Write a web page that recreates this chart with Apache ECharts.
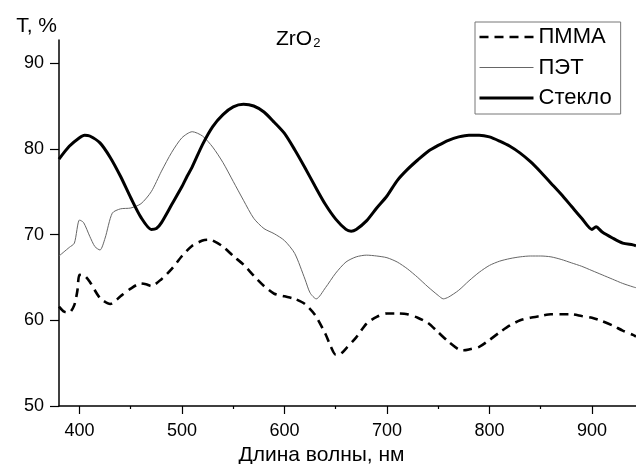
<!DOCTYPE html>
<html>
<head>
<meta charset="utf-8">
<script src="https://cdn.jsdelivr.net/npm/echarts@6/dist/echarts.min.js"></script>
<style>
html,body{margin:0;padding:0;background:#fff;}
#chart{width:636px;height:464px;}
</style>
</head>
<body>
<div id="chart"></div>
<script>
// Series names
const seriesNames = ['ПММА', 'ПЭТ', 'Стекло'];

// ПММА (dashed)
const pmmaX = [380,385,390,395,398,400,405,410,420,430,440,450,460,465,470,480,490,500,510,520,525,530,540,550,560,570,580,590,600,610,620,630,640,645,650,655,660,670,680,690,700,710,720,730,740,750,760,770,775,780,790,800,810,820,830,840,850,860,870,880,890,900,910,920,930,940,943];
const pmmaY = [61.6,61.0,60.9,61.8,63.5,65.3,65.2,64.5,62.6,61.9,62.8,63.7,64.3,64.2,64.0,64.8,66.0,67.5,68.7,69.3,69.4,69.3,68.6,67.5,66.5,65.2,64.0,63.1,62.8,62.5,61.9,60.6,58.4,57.0,56.0,56.1,56.7,58.0,59.6,60.4,60.8,60.8,60.7,60.3,59.7,58.6,57.5,56.6,56.5,56.6,56.9,57.7,58.6,59.4,60.0,60.3,60.5,60.7,60.7,60.7,60.5,60.3,59.9,59.4,58.8,58.3,58.1];

// ПЭТ (thin)
const petX = [380,390,395,400,404,410,415,420,425,432,440,450,460,470,480,490,500,510,520,530,540,550,560,570,580,590,600,610,620,625,631,640,650,660,670,680,690,700,710,720,730,740,750,755,760,770,780,790,800,810,820,830,840,850,860,870,880,890,900,910,920,930,940,943];
const petY = [67.5,68.5,69.0,71.7,71.4,69.8,68.6,68.2,69.6,72.5,73.0,73.1,73.6,75.0,77.4,79.6,81.3,82.0,81.5,80.2,78.4,76.2,74.0,71.9,70.7,70.1,69.3,67.8,64.8,63.2,62.5,63.8,65.5,66.8,67.4,67.6,67.5,67.3,66.8,66.0,65.0,63.9,62.9,62.5,62.7,63.5,64.6,65.6,66.4,66.9,67.2,67.4,67.5,67.5,67.4,67.1,66.7,66.3,65.8,65.3,64.8,64.3,63.9,63.8];

// Стекло (thick)
const glassX = [380,390,400,405,410,420,430,440,450,460,470,475,480,490,500,505,510,520,530,540,550,560,570,580,590,600,610,620,630,640,650,660,665,670,680,690,700,710,720,730,740,750,760,770,780,790,800,810,820,830,840,850,860,870,880,890,900,904,910,920,930,940,943];
const glassY = [78.8,80.3,81.3,81.6,81.5,80.7,79.0,76.8,74.3,72.0,70.6,70.7,71.4,73.5,75.6,76.8,77.9,80.5,82.6,84.0,84.9,85.2,85.0,84.3,83.1,81.8,79.9,77.8,75.6,73.5,71.8,70.6,70.4,70.6,71.6,73.1,74.5,76.3,77.6,78.7,79.7,80.4,81.0,81.4,81.6,81.6,81.4,80.9,80.3,79.5,78.5,77.3,76.0,74.7,73.3,71.9,70.6,70.9,70.3,69.6,69.0,68.8,68.7];

// Tick labels
const xTicks = [400,500,600,700,800,900];
const xMinorTicks = [450,550,650,750,850];
const yTicks = [50,60,70,80,90];

function pairs(xs, ys){ return xs.map((x,i)=>[x, ys[i]]); }

const FONT = '"Liberation Sans", Arial, sans-serif';
const chart = echarts.init(document.getElementById('chart'), null, {renderer:'canvas'});
chart.setOption({
  animation: false,
  backgroundColor: '#fff',
  textStyle: {fontFamily: FONT, color: '#000'},
  title: {
    text: 'ZrO{s|2}',
    left: 271, top: 23,
    textStyle: {
      fontFamily: FONT, fontSize: 21, fontWeight: 'normal', color: '#000',
      rich: {s: {fontFamily: FONT, fontSize: 13, color: '#000', padding: [9,0,0,1]}}
    }
  },
  legend: {
    orient: 'vertical',
    left: 475, top: 22,
    padding: [4, 9, 5, 3],
    itemWidth: 54, itemHeight: 14, itemGap: 8.5,
    borderColor: '#777', borderWidth: 1,
    itemStyle: {color: 'transparent', borderWidth: 0, opacity: 0},
    lineStyle: {width: 'inherit'},
    textStyle: {fontFamily: FONT, fontSize: 22, lineHeight: 22, color: '#000'},
    data: [
      {name: seriesNames[0], lineStyle: {width: 2.6, type: [9, 6], color: '#000'}},
      {name: seriesNames[1], lineStyle: {width: 1, color: '#666'}},
      {name: seriesNames[2], lineStyle: {width: 3, color: '#000'}}
    ]
  },
  grid: {left: 59, right: 0, top: 40, bottom: 58, containLabel: false, outerBoundsMode: 'none'},
  xAxis: [{
    type: 'value', min: 380, max: 943,
    name: 'Длина волны, нм', nameLocation: 'middle', nameGap: 35,
    nameTextStyle: {fontFamily: FONT, fontSize: 21, color: '#000', padding: [0, 52, 0, 0]},
    axisLine: {show: true, onZero: false, lineStyle: {color: '#000', width: 1.5}},
    axisTick: {show: true, inside: false, length: 8, customValues: xTicks, lineStyle: {color: '#000', width: 1.2}},
    axisLabel: {customValues: xTicks, margin: 16, fontFamily: FONT, fontSize: 18, color: '#000'},
    splitLine: {show: false}
  },{
    type: 'value', min: 380, max: 943, position: 'bottom',
    axisLine: {show: false},
    axisTick: {show: true, inside: false, length: 3, customValues: xMinorTicks, lineStyle: {color: '#000', width: 1.2}},
    axisLabel: {show: false},
    splitLine: {show: false}
  }],
  yAxis: {
    type: 'value', min: 50, max: 92.7,
    name: 'T, %', nameLocation: 'end', nameGap: 14,
    nameTextStyle: {fontFamily: FONT, fontSize: 21, color: '#000', align: 'right', verticalAlign: 'middle', padding: [0, 2, 0, 0]},
    axisLine: {show: true, onZero: false, lineStyle: {color: '#000', width: 1.5}},
    axisTick: {show: true, inside: false, length: 9, customValues: yTicks, lineStyle: {color: '#000', width: 1.2}},
    axisLabel: {customValues: yTicks, margin: 15, fontFamily: FONT, fontSize: 18, color: '#000'},
    splitLine: {show: false}
  },
  series: [
    {name: seriesNames[0], type: 'line', data: pairs(pmmaX, pmmaY), smooth: 0.25, symbol: 'none', showSymbol: false,
     lineStyle: {color: '#000', width: 2.6, type: [9, 6]}, itemStyle: {color: '#000'}},
    {name: seriesNames[1], type: 'line', data: pairs(petX, petY), smooth: 0.25, symbol: 'none', showSymbol: false,
     lineStyle: {color: '#666', width: 1}, itemStyle: {color: '#666'}},
    {name: seriesNames[2], type: 'line', data: pairs(glassX, glassY), smooth: 0.25, symbol: 'none', showSymbol: false,
     lineStyle: {color: '#000', width: 3}, itemStyle: {color: '#000'}}
  ]
});
</script>
</body>
</html>
